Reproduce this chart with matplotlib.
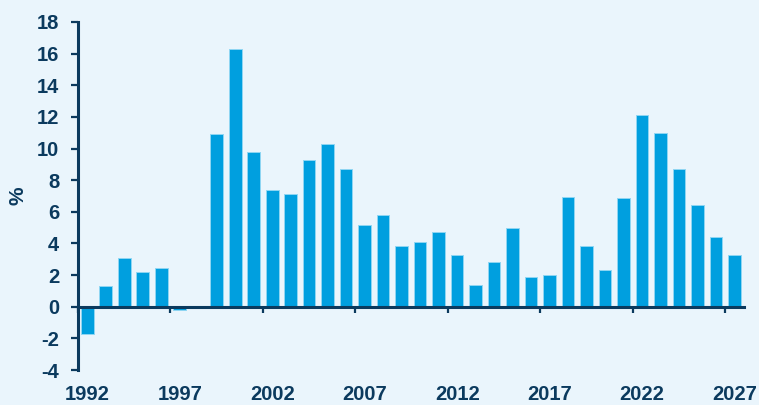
import numpy as np
import matplotlib.pyplot as plt

plt.rcParams['font.family'] = ['Liberation Sans', 'DejaVu Sans']
plt.rcParams['font.weight'] = 'bold'

years = list(range(1992, 2028))
growth = [-1.7, 1.3, 3.05, 2.2, 2.45, -0.18, 0.0, 10.9, 16.3, 9.75,
          7.4, 7.15, 9.25, 10.3, 8.7, 5.15, 5.8, 3.85, 4.1, 4.75,
          3.25, 1.4, 2.8, 4.95, 1.9, 2.0, 6.95, 3.85, 2.35, 6.85,
          12.15, 11.0, 8.7, 6.4, 4.4, 3.3]
year_labels = ['1992', '1997', '2002', '2007', '2012', '2017', '2022', '2027']
y_ticks = list(range(-4, 19, 2))

bg = '#EAF5FC'
navy = '#0B3A5E'
bar_col = '#009FDF'

fig = plt.figure(figsize=(7.59, 4.05), dpi=100, facecolor=bg)
ax = fig.add_axes([0.1028, 0.0864, 0.8772, 0.8593])
ax.set_facecolor(bg)

x = np.arange(len(years))
ax.bar(x, growth, width=0.68, color=bar_col, edgecolor='#8FD6F3',
       linewidth=0.7, zorder=2)

ax.set_xlim(-0.5, len(years) - 0.5)
ax.set_ylim(-4, 18)

for s in ['top', 'right']:
    ax.spines[s].set_visible(False)
ax.spines['left'].set_color(navy)
ax.spines['left'].set_linewidth(2.2)
ax.spines['bottom'].set_color(navy)
ax.spines['bottom'].set_linewidth(2.2)
ax.spines['bottom'].set_position(('data', 0))
ax.spines['bottom'].set_zorder(3)

ax.set_yticks(y_ticks)
ax.set_yticklabels([str(v) for v in y_ticks])
ax.tick_params(axis='y', direction='out', length=5, width=1.6,
               color=navy, labelcolor=navy, labelsize=14.5, pad=8.5)

# ticks sit between categories, every five years
ax.set_xticks(np.arange(-0.5, len(years) - 0.5, 5))
ax.set_xticklabels([])
ax.tick_params(axis='x', direction='out', length=4, width=1.6, color=navy)

for lab in year_labels:
    i = years.index(int(lab))
    ax.annotate(lab, xy=(i, -4), xytext=(0, -11), textcoords='offset points',
                ha='center', va='top', fontsize=14.5, color=navy,
                fontweight='bold', annotation_clip=False)

ax.set_ylabel('%', fontsize=15, color=navy, fontweight='bold')
ax.yaxis.set_label_coords(-0.076, 0.5)

fig.savefig('out.png', dpi=100, facecolor=bg)
